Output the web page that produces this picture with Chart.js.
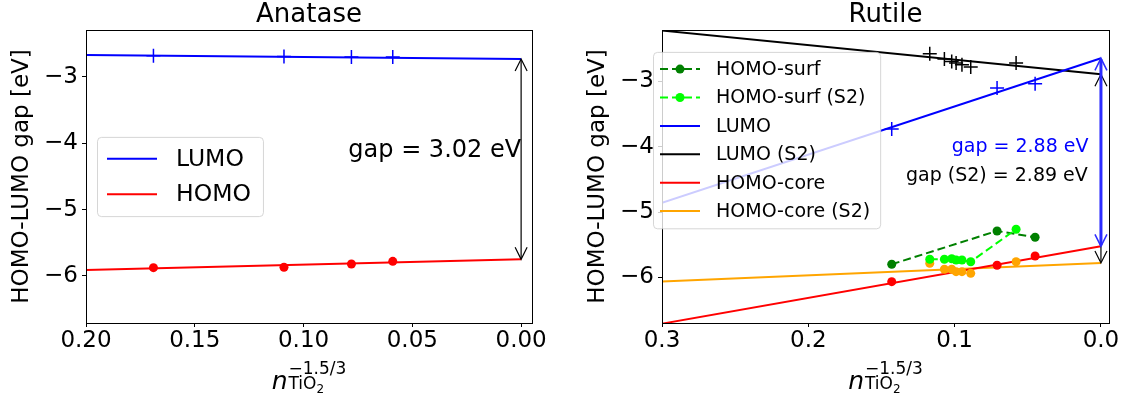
<!DOCTYPE html>
<html>
<head>
<meta charset="utf-8">
<script src="https://cdn.jsdelivr.net/npm/chart.js@4.4.1/dist/chart.umd.min.js"></script>
<style>
    body { margin: 0; background: #fff; }
    .panel { position: absolute; top: 0; height: 400px; }
    #left { left: 0; width: 560px; }
    #right { left: 576px; width: 547px; }
</style>
</head>
<body>
<div class="panel" id="left"><canvas id="anatase" width="560" height="400"></canvas></div>
<div class="panel" id="right"><canvas id="rutile" width="547" height="400"></canvas></div>
<script>
// ---- Anatase data ----
const anataseX = [0.169, 0.109, 0.078, 0.059];
const anataseLumo = [-2.68, -2.69, -2.70, -2.70];
const anataseHomo = [-5.875, -5.87, -5.82, -5.78];
const anataseFitX = [0.2, 0.0];
const anataseLumoFit = [-2.668, -2.73];
const anataseHomoFit = [-5.91, -5.75];
const anataseXTicks = [0.2, 0.15, 0.1, 0.05, 0.0];

// ---- Rutile data ----
const rutileX = [0.143, 0.071, 0.045];
const rutileLumo = [-3.73, -3.10, -3.035];
const rutileHomoCore = [-6.067, -5.816, -5.673];
const rutileHomoSurf = [-5.80, -5.29, -5.387];
const rutileS2X = [0.117, 0.107, 0.102, 0.099, 0.095, 0.089, 0.058];
const rutileLumoS2 = [-2.575, -2.656, -2.693, -2.718, -2.744, -2.779, -2.718];
const rutileHomoCoreS2 = [-5.785, -5.877, -5.877, -5.914, -5.914, -5.939, -5.761];
const rutileHomoSurfS2 = [-5.724, -5.724, -5.715, -5.735, -5.735, -5.761, -5.264];
const rutileFitX = [0.3, 0.0];
const rutileLumoFit = [-4.86, -2.645];
const rutileLumoS2Fit = [-2.22, -2.89];
const rutileHomoCoreFit = [-6.71, -5.525];
const rutileHomoCoreS2Fit = [-6.065, -5.78];
const rutileXTicks = [0.3, 0.2, 0.1, 0.0];

const yTicks = [-6, -5, -4, -3];

Chart.defaults.font.family = '"DejaVu Sans", sans-serif';
Chart.defaults.color = '#000';

const pts = (xs, ys) => xs.map((x, i) => ({ x: x, y: ys[i] }));

function fitLine(xs, ys, color, label, legendIndex) {
    return { data: pts(xs, ys), showLine: true, borderColor: color, borderWidth: 2,
        pointRadius: 0, legendLabel: label, legendIndex: legendIndex };
}
function crosses(xs, ys, color) {
    return { data: pts(xs, ys), pointStyle: 'cross', pointRadius: 7, borderColor: color,
        borderWidth: 1.5, pointBorderWidth: 1.5 };
}
function dots(xs, ys, color) {
    return { data: pts(xs, ys), pointStyle: 'circle', pointRadius: 4.5, borderWidth: 0,
        pointBorderWidth: 0, backgroundColor: color, pointBackgroundColor: color, borderColor: color };
}
function dashedDots(xs, ys, color, label, legendIndex) {
    return { data: pts(xs, ys), showLine: true, borderDash: [8, 4], borderColor: color, borderWidth: 2,
        pointRadius: 4.5, pointBorderWidth: 0, pointBackgroundColor: color, backgroundColor: color,
        legendLabel: label, legendIndex: legendIndex, legendMarker: true };
}

// box around the plot area, like matplotlib spines
const frame = {
    id: 'frame',
    afterDatasetsDraw(chart) {
        const { ctx, chartArea: a } = chart;
        ctx.save();
        ctx.strokeStyle = '#000';
        ctx.lineWidth = 1;
        ctx.strokeRect(Math.round(a.left) + 0.5, Math.round(a.top) + 0.5,
            Math.round(a.right - a.left), Math.round(a.bottom - a.top));
        ctx.restore();
    }
};

// double headed arrows and gap texts
const annotate = {
    id: 'annotate',
    afterDatasetsDraw(chart, args, o) {
        const ctx = chart.ctx, xs = chart.scales.x, ys = chart.scales.y;
        ctx.save();
        (o.arrows || []).forEach(ar => {
            const x = xs.getPixelForValue(ar.x);
            const y1 = ys.getPixelForValue(ar.from);
            const y2 = ys.getPixelForValue(ar.to);
            ctx.strokeStyle = ar.color;
            ctx.lineWidth = ar.width;
            ctx.beginPath();
            ctx.moveTo(x, y1 + 1);
            ctx.lineTo(x, y2 - 1);
            ctx.stroke();
            ctx.lineWidth = ar.headWidth;
            [[y1, 1], [y2, -1]].forEach(([y, d]) => {
                ctx.beginPath();
                ctx.moveTo(x - 6, y + d * 12);
                ctx.lineTo(x, y);
                ctx.lineTo(x + 6, y + d * 12);
                ctx.stroke();
            });
        });
        (o.texts || []).forEach(t => {
            ctx.font = t.size + 'px "DejaVu Sans"';
            ctx.fillStyle = t.color;
            ctx.textAlign = 'right';
            ctx.textBaseline = 'middle';
            ctx.fillText(t.text, xs.getPixelForValue(t.x), ys.getPixelForValue(t.y));
        });
        ctx.restore();
    }
};

// matplotlib style legend box drawn on top of the data
const boxLegend = {
    id: 'boxLegend',
    afterDraw(chart, args, o) {
        const ctx = chart.ctx, a = chart.chartArea;
        const items = chart.data.datasets.filter(d => d.legendLabel)
            .sort((p, q) => p.legendIndex - q.legendIndex);
        const x0 = a.left + o.dx, y0 = a.top + o.dy;
        ctx.save();
        ctx.font = o.size + 'px "DejaVu Sans"';
        const textW = Math.max(...items.map(d => ctx.measureText(d.legendLabel).width));
        const w = o.padX + o.handle + o.gap + textW + o.padR;
        const h = o.padY * 2 + items.length * o.rowH;
        ctx.beginPath();
        ctx.roundRect(x0 + 0.5, y0 + 0.5, w, h, 4);
        ctx.fillStyle = 'rgba(255,255,255,0.8)';
        ctx.fill();
        ctx.strokeStyle = 'rgba(204,204,204,0.8)';
        ctx.lineWidth = 1;
        ctx.stroke();
        items.forEach((d, i) => {
            const cy = y0 + o.padY + o.rowH * (i + 0.5);
            const hx = x0 + o.padX;
            ctx.strokeStyle = d.borderColor;
            ctx.lineWidth = d.borderWidth;
            ctx.setLineDash(d.borderDash || []);
            ctx.beginPath();
            ctx.moveTo(hx, cy);
            ctx.lineTo(hx + o.handle, cy);
            ctx.stroke();
            ctx.setLineDash([]);
            if (d.legendMarker) {
                ctx.fillStyle = d.pointBackgroundColor;
                ctx.beginPath();
                ctx.arc(hx + o.handle / 2, cy, d.pointRadius, 0, Math.PI * 2);
                ctx.fill();
            }
            ctx.fillStyle = '#000';
            ctx.textAlign = 'left';
            ctx.textBaseline = 'middle';
            ctx.fillText(d.legendLabel, hx + o.handle + o.gap, cy + 1);
        });
        ctx.restore();
    }
};

// x axis label  n_TiO2^(-1.5/3)
const xLabel = {
    id: 'xLabel',
    afterDraw(chart, args, o) {
        const ctx = chart.ctx, a = chart.chartArea;
        const cx = (a.left + a.right) / 2, base = a.bottom + o.dy;
        const fMain = 'italic ' + o.size + 'px "DejaVu Sans"';
        const fSmall = o.small + 'px "DejaVu Sans"';
        const fTiny = o.tiny + 'px "DejaVu Sans"';
        ctx.save();
        ctx.fillStyle = '#000';
        ctx.textAlign = 'left';
        ctx.textBaseline = 'alphabetic';
        ctx.font = fMain;
        const wn = ctx.measureText('n').width;
        ctx.font = fSmall;
        const wSup = ctx.measureText('\u22121.5/3').width;
        const wTiO = ctx.measureText('TiO').width;
        ctx.font = fTiny;
        const w2 = ctx.measureText('2').width;
        let x = cx - (wn + 1 + Math.max(wSup, wTiO + w2)) / 2;
        ctx.font = fMain;
        ctx.fillText('n', x, base);
        x += wn + 1;
        ctx.font = fSmall;
        ctx.fillText('\u22121.5/3', x, base - o.rise);
        ctx.fillText('TiO', x, base + o.drop);
        ctx.font = fTiny;
        ctx.fillText('2', x + wTiO, base + o.drop + 4);
        ctx.restore();
    }
};

function makeScales(xMax, xMin, xTicks, digits, yMin, yMax) {
    return {
        x: {
            type: 'linear', reverse: true, min: xMin, max: xMax,
            afterBuildTicks: s => { s.ticks = xTicks.map(v => ({ value: v })); },
            afterFit: s => { s.height = 77; },
            ticks: { callback: v => v.toFixed(digits), font: { size: 23 }, color: '#000', padding: 0, maxRotation: 0, autoSkip: false },
            grid: { drawOnChartArea: false, tickLength: 4, color: '#000' },
            border: { display: false }
        },
        y: {
            type: 'linear', min: yMin, max: yMax,
            afterBuildTicks: s => { s.ticks = yTicks.map(v => ({ value: v })); },
            afterFit: s => { s.width = 86; },
            ticks: { callback: v => '\u2212' + Math.abs(v), font: { size: 23 }, color: '#000', padding: 4 },
            grid: { drawOnChartArea: false, tickLength: 4, color: '#000' },
            border: { display: false },
            title: { display: true, text: 'HOMO-LUMO gap [eV]', font: { size: 23 }, color: '#000', padding: { top: 8, bottom: 0 } }
        }
    };
}

function baseOptions(title, rightPad) {
    return {
        responsive: false,
        animation: false,
        devicePixelRatio: 1,
        layout: { padding: { left: 0, right: rightPad, top: 0, bottom: 0 } },
        plugins: {
            legend: { display: false },
            tooltip: { enabled: false },
            title: { display: true, text: title, fullSize: false, font: { size: 26, weight: 'normal', lineHeight: 1.15 }, color: '#000', padding: { top: 0, bottom: 0 } },
            xLabel: { dy: 66, size: 25, small: 17, tiny: 12, rise: 15, drop: 0 }
        }
    };
}

// ---- Anatase chart ----
const anataseOptions = baseOptions('Anatase', 28);
anataseOptions.scales = makeScales(0.2, -0.005, anataseXTicks, 2, -6.71, -2.29);
anataseOptions.plugins.boxLegend = { dx: 11, dy: 107, size: 23.5, padX: 10, handle: 50, gap: 19, padR: 12, padY: 4, rowH: 35.6 };
anataseOptions.plugins.annotate = {
    arrows: [{ x: 0, from: anataseLumoFit[1], to: anataseHomoFit[1], color: '#000', width: 1.2, headWidth: 1.2 }],
    texts: [{ text: 'gap = 3.02 eV', x: 0, y: -4.12, size: 24, color: '#000' }]
};

new Chart(document.getElementById('anatase'), {
    type: 'scatter',
    data: {
        datasets: [
            crosses(anataseX, anataseLumo, '#0000ff'),
            dots(anataseX, anataseHomo, '#ff0000'),
            fitLine(anataseFitX, anataseLumoFit, '#0000ff', 'LUMO', 0),
            fitLine(anataseFitX, anataseHomoFit, '#ff0000', 'HOMO', 1)
        ]
    },
    options: anataseOptions,
    plugins: [frame, annotate, boxLegend, xLabel]
});

// ---- Rutile chart ----
const rutileOptions = baseOptions('Rutile', 14);
rutileOptions.scales = makeScales(0.3, -0.0055, rutileXTicks, 1, -6.70, -2.21);
rutileOptions.plugins.boxLegend = { dx: -9, dy: 22, size: 19, padX: 7, handle: 40, gap: 16, padR: 10, padY: 3, rowH: 28.4 };
rutileOptions.plugins.annotate = {
    arrows: [
        { x: 0, from: rutileLumoS2Fit[1], to: rutileHomoCoreS2Fit[1], color: '#000', width: 1.2, headWidth: 1.2 },
        { x: 0, from: rutileLumoFit[1], to: rutileHomoCoreFit[1], color: '#2b2bff', width: 3, headWidth: 1.5 }
    ],
    texts: [
        { text: 'gap = 2.88 eV', x: 0.0085, y: -4.0, size: 19, color: '#0000ff' },
        { text: 'gap (S2) = 2.89 eV', x: 0.009, y: -4.45, size: 19, color: '#000' }
    ]
};

new Chart(document.getElementById('rutile'), {
    type: 'scatter',
    data: {
        datasets: [
            crosses(rutileX, rutileLumo, '#0000ff'),
            crosses(rutileS2X, rutileLumoS2, '#000000'),
            dashedDots(rutileS2X, rutileHomoSurfS2, '#00ff00', 'HOMO-surf (S2)', 1),
            dashedDots(rutileX, rutileHomoSurf, '#008000', 'HOMO-surf', 0),
            dots(rutileX, rutileHomoCore, '#ff0000'),
            dots(rutileS2X, rutileHomoCoreS2, '#ffa500'),
            fitLine(rutileFitX, rutileLumoFit, '#0000ff', 'LUMO', 2),
            fitLine(rutileFitX, rutileLumoS2Fit, '#000000', 'LUMO (S2)', 3),
            fitLine(rutileFitX, rutileHomoCoreFit, '#ff0000', 'HOMO-core', 4),
            fitLine(rutileFitX, rutileHomoCoreS2Fit, '#ffa500', 'HOMO-core (S2)', 5)
        ]
    },
    options: rutileOptions,
    plugins: [frame, annotate, boxLegend, xLabel]
});
</script>
</body>
</html>
